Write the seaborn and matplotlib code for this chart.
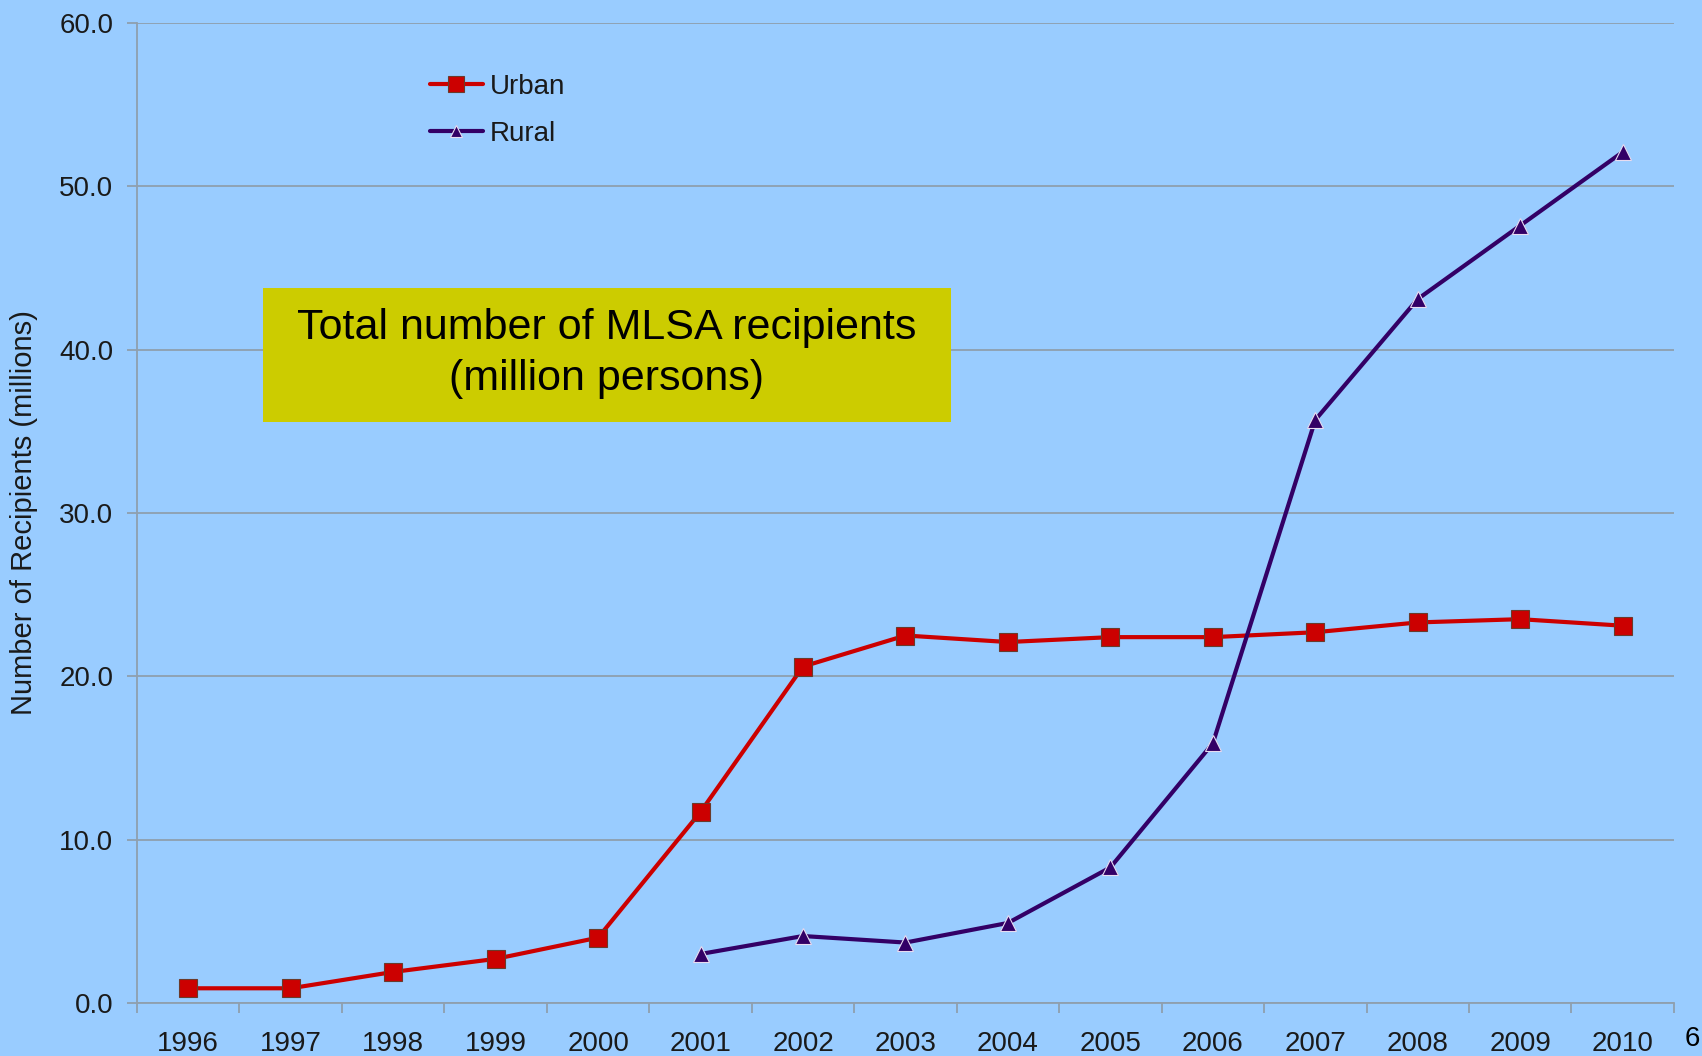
import matplotlib
matplotlib.use("Agg")
import matplotlib.pyplot as plt
from matplotlib.patches import Rectangle
from matplotlib.lines import Line2D
from matplotlib.ticker import FixedLocator
import numpy as np
import pandas as pd
import seaborn as sns

# MLSA recipients, million persons
years = [1996, 1997, 1998, 1999, 2000, 2001, 2002, 2003, 2004, 2005,
         2006, 2007, 2008, 2009, 2010]
urban = [0.9, 0.9, 1.9, 2.7, 4.0, 11.7, 20.6, 22.5, 22.1, 22.4,
         22.4, 22.7, 23.3, 23.5, 23.1]
rural_years = [2001, 2002, 2003, 2004, 2005, 2006, 2007, 2008, 2009, 2010]
rural = [3.0, 4.1, 3.7, 4.9, 8.3, 15.9, 35.7, 43.1, 47.6, 52.1]

y_ticks = [0, 10, 20, 30, 40, 50, 60]

df = pd.concat([
    pd.DataFrame({"year": years, "value": urban, "area": "Urban"}),
    pd.DataFrame({"year": rural_years, "value": rural, "area": "Rural"}),
], ignore_index=True)

sns.set_theme(style="white")
plt.rcParams["font.family"] = ["Liberation Sans", "DejaVu Sans"]

BG = "#99CCFF"
GRID = "#8f9fae"
TXT = "#1a1a1a"

fig = plt.figure(figsize=(17.02, 10.56), dpi=100, facecolor=BG)
ax = fig.add_axes([0.0805, 0.0502, 0.903, 0.928])
ax.set_facecolor(BG)

palette = {"Urban": "#CC0000", "Rural": "#330066"}
markers = {"Urban": "s", "Rural": "^"}
sns.lineplot(data=df, x="year", y="value", hue="area", style="area",
             palette=palette, markers=markers, dashes=False,
             linewidth=3.0, markersize=13, ax=ax, legend=False, zorder=4)
for line, mec, ms in zip(ax.lines, ["#6b3a2a", "#e8dcf0"], [13.5, 12]):
    line.set_markeredgecolor(mec)
    line.set_markeredgewidth(0.8)
    line.set_markersize(ms)

ax.set_xlim(1995.5, 2010.5)
ax.set_ylim(0, 60)

# horizontal gridlines
ax.set_yticks(y_ticks)
ax.set_yticklabels([f"{v:.1f}" for v in y_ticks])
ax.yaxis.grid(True, color=GRID, linewidth=1.3)
ax.set_axisbelow(True)

# year labels centred, tick marks on category boundaries
ax.set_xticks(years)
ax.set_xticklabels([str(y) for y in years])
ax.xaxis.set_minor_locator(FixedLocator(np.arange(1995.5, 2011, 1.0)))
ax.tick_params(axis="x", which="major", length=0, pad=20, labelsize=20,
               labelcolor=TXT)
ax.tick_params(axis="x", which="minor", length=7, width=1.3, color=GRID,
               direction="out", bottom=True)
ax.tick_params(axis="y", which="major", length=7, width=1.3, color=GRID,
               direction="out", left=True, pad=10, labelsize=20,
               labelcolor=TXT)

for side in ["top", "right"]:
    ax.spines[side].set_visible(False)
for side in ["left", "bottom"]:
    ax.spines[side].set_color(GRID)
    ax.spines[side].set_linewidth(1.3)

ax.set_xlabel("")
ax.set_ylabel("Number of Recipients (millions)", fontsize=21, color=TXT)
ax.yaxis.set_label_coords(-0.0645, 0.5)

# legend
handles = [
    Line2D([], [], color=palette["Urban"], marker="s", markersize=11,
           linewidth=3.0, markeredgecolor="#6b3a2a", markeredgewidth=0.8),
    Line2D([], [], color=palette["Rural"], marker="^", markersize=9,
           linewidth=3.0, markeredgecolor="#e8dcf0", markeredgewidth=0.8),
]
fig.legend(handles, ["Urban", "Rural"], loc="upper left",
           bbox_to_anchor=(0.2525, 0.930), frameon=False, fontsize=20,
           handlelength=1.9, handletextpad=0.25, labelspacing=0.75,
           borderpad=0, borderaxespad=0, labelcolor=TXT)

# title box
ax.add_patch(Rectangle((0.1545, 0.6004), 0.4042, 0.1269,
                       transform=fig.transFigure, facecolor="#CCCC00",
                       edgecolor="none", zorder=5, clip_on=False))
fig.text(0.3566, 0.6655, "Total number of MLSA recipients\n(million persons)",
         ha="center", va="center", fontsize=31, linespacing=1.35,
         color="black", zorder=6)

fig.text(0.999, 0.004, "6", ha="right", va="bottom", fontsize=20,
         color="black")

fig.savefig("out.png", dpi=100, facecolor=BG)
